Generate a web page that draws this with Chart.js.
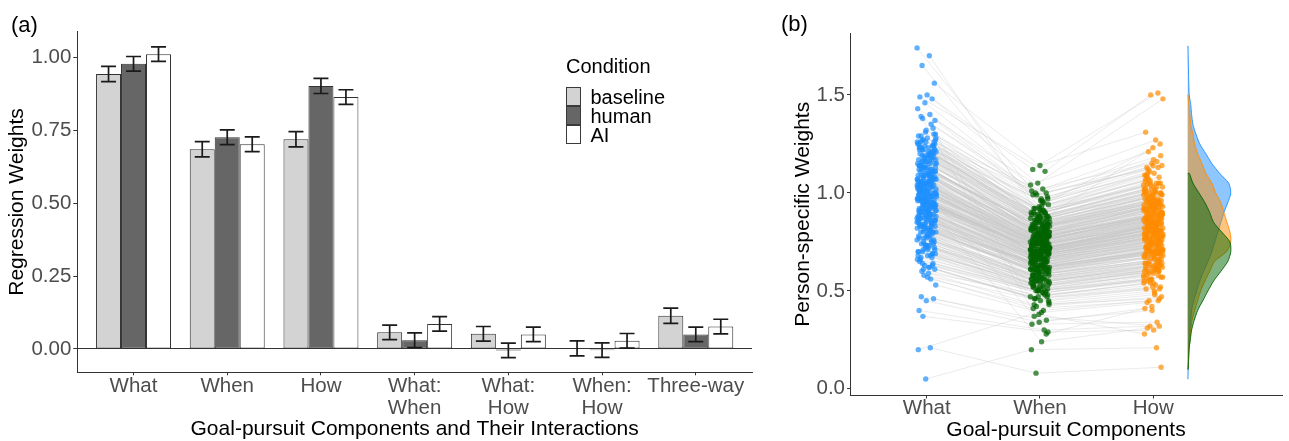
<!DOCTYPE html>
<html><head><meta charset="utf-8">
<script src="https://cdn.jsdelivr.net/npm/chart.js@4.4.1/dist/chart.umd.min.js"></script>
<style>
body{margin:0;background:#fff;}
#wrap{position:relative;width:1289px;height:441px;overflow:hidden;font-family:"Liberation Sans",Arial,sans-serif;background:#fff;}
canvas{position:absolute;top:0;}
.t{position:absolute;white-space:nowrap;color:#000;}
.panel{font-size:22px;line-height:22px;}
.leg{font-size:20px;line-height:20px;}
.key{position:absolute;width:15px;height:19px;box-sizing:border-box;border:1px solid #3a3a3a;}
</style></head><body>
<div id="wrap">
 <canvas id="ca" width="775" height="441" style="left:0"></canvas>
 <canvas id="cb" width="509" height="441" style="left:780px"></canvas>
 <div class="t panel" style="left:11px;top:14px">(a)</div>
 <div class="t panel" style="left:781px;top:13px">(b)</div>
 <div class="t leg" style="left:566px;top:56px">Condition</div>
</div>
<script>
// ---------------- Panel (a) data ----------------
const barCategories = ['What','When','How','What:When','What:How','When:How','Three-way'];
const xTickLabels = [['What'],['When'],['How'],['What:','When'],['What:','How'],['When:','How'],['Three-way']];
const conditions = ['baseline','human','AI'];
const baselineVals = [0.943, 0.685, 0.719, 0.057, 0.052, 0.002, 0.114];
const humanVals    = [0.978, 0.726, 0.902, 0.030, -0.005, -0.004, 0.050];
const aiVals       = [1.011, 0.702, 0.864, 0.086, 0.050, 0.028, 0.077];
const baselineErr  = [0.026, 0.026, 0.026, 0.025, 0.025, 0.026, 0.026];
const humanErr     = [0.025, 0.025, 0.026, 0.025, 0.025, 0.025, 0.025];
const aiErr        = [0.025, 0.025, 0.025, 0.025, 0.025, 0.025, 0.025];
const yTicksA = [0, 0.25, 0.5, 0.75, 1.0];

// ---------------- Panel (b) data ----------------
const components = ['What','When','How'];
const yTicksB = [0, 0.5, 1.0, 1.5];
const whatWeights = [
1.74,0.95,1.12,0.83,1.05,0.71,1.22,0.98,0.88,1.31,0.64,1.02,0.92,1.17,0.77,1.08,0.99,0.86,1.26,0.60,
1.70,1.04,0.91,0.79,1.14,0.68,1.00,0.94,1.20,0.85,0.73,1.10,0.97,0.81,1.28,0.58,1.06,0.90,1.16,0.75,
1.65,0.96,1.03,0.87,1.24,0.66,1.09,0.93,0.80,1.19,0.70,1.01,0.89,1.13,0.62,1.07,0.95,0.84,1.23,0.78,
1.56,1.00,0.92,1.15,0.82,0.69,1.11,0.97,0.86,1.27,0.56,1.04,0.90,1.18,0.74,1.02,0.98,0.83,1.21,0.65,
1.50,0.94,1.06,0.88,1.25,0.72,1.08,0.96,0.79,1.30,0.61,1.03,0.91,1.12,0.76,1.05,0.99,0.85,1.19,0.67,
1.49,1.01,0.93,1.16,0.81,0.70,1.10,0.95,0.87,1.23,0.53,1.07,0.89,1.14,0.73,1.00,0.97,0.82,1.26,0.63,
1.48,0.98,1.05,0.86,1.22,0.68,1.09,0.92,0.80,1.29,0.59,1.02,0.94,1.17,0.77,1.04,0.96,0.84,1.20,0.66,
1.46,1.03,0.90,1.13,0.83,0.71,1.12,0.99,0.88,1.24,0.47,1.06,0.91,1.18,0.75,1.01,0.95,0.85,1.27,0.62,
1.43,0.97,1.07,0.87,1.21,0.69,1.08,0.93,0.78,1.32,0.46,1.03,0.90,1.15,0.74,1.05,1.00,0.82,1.22,0.64,
1.40,1.02,0.94,1.11,0.80,0.72,1.13,0.96,0.86,1.25,0.45,1.04,0.92,1.19,0.76,0.99,0.98,0.84,1.28,0.61,
1.38,0.95,1.06,0.89,1.20,0.67,1.10,0.94,0.81,1.35,0.40,1.01,0.93,1.16,0.73,1.07,0.97,0.83,1.23,0.57,
1.37,0.37,0.21,0.20,0.05,1.33,1.39,0.99,0.88,1.09,
1.18,0.92,1.04,0.86,1.12,0.78,0.97,1.24,0.69,1.06,0.88,1.15,0.94,0.81,1.29,1.01,0.74,1.09,0.90,1.21,
1.03,0.85,1.14,0.96,0.72,1.19,0.89,1.07,0.98,0.63,1.26,0.91,1.11,0.83,1.00,1.17,0.77,0.95,1.23,0.87,
0.99,1.13,0.84,1.05,0.93,1.22,0.70,1.08,0.96,1.16,0.80,1.02,0.90,1.27,0.75,1.10,0.97,0.85,1.20,1.04,
1.09,0.87,1.17,0.94,1.01,0.79,1.25,0.92,1.06,0.68,1.14,0.98,0.83,1.19,0.91,1.03,0.76,1.12,0.95,1.30,
0.96,1.10,0.82,1.05,0.93,1.20,0.73,1.08,1.00,1.15,0.86,0.99,1.24,0.89,1.06,0.80,1.13,0.94,1.02,1.18,
1.07,0.90,1.16,0.97,0.84,1.21,1.01,0.71,1.11,0.95,1.04,0.88,1.26,0.92,1.14,0.78,1.00,1.09,0.85,1.22];
const whenWeights = [
0.95,0.72,0.80,0.62,0.75,0.55,0.84,0.70,0.66,0.90,0.50,0.73,0.68,0.82,0.58,0.77,0.71,0.64,0.88,0.47,
0.92,0.76,0.67,0.60,0.81,0.52,0.74,0.69,0.86,0.63,0.56,0.79,0.72,0.61,0.93,0.44,0.78,0.65,0.83,0.57,
0.88,0.70,0.75,0.64,0.89,0.49,0.78,0.68,0.59,0.85,0.53,0.73,0.66,0.81,0.46,0.76,0.71,0.62,0.90,0.58,
1.14,0.74,0.67,0.83,0.61,0.51,0.80,0.71,0.64,0.94,0.42,0.77,0.66,0.86,0.55,0.75,0.72,0.62,0.87,0.48,
1.12,0.69,0.78,0.65,0.91,0.54,0.79,0.70,0.58,0.97,0.45,0.75,0.67,0.82,0.57,0.76,0.73,0.63,0.85,0.50,
1.11,0.73,0.68,0.84,0.60,0.52,0.81,0.69,0.65,0.92,0.39,0.78,0.66,0.83,0.54,0.74,0.71,0.61,0.96,0.47,
1.05,0.72,0.77,0.63,0.88,0.50,0.80,0.68,0.59,1.00,0.43,0.74,0.69,0.85,0.56,0.76,0.70,0.62,0.89,0.49,
1.04,0.75,0.66,0.82,0.62,0.53,0.83,0.72,0.65,0.93,0.35,0.77,0.67,0.87,0.55,0.73,0.70,0.63,0.98,0.46,
1.02,0.71,0.79,0.64,0.90,0.51,0.78,0.68,0.57,1.01,0.34,0.76,0.66,0.84,0.54,0.77,0.72,0.60,0.91,0.48,
1.00,0.74,0.69,0.81,0.59,0.53,0.82,0.70,0.63,0.95,0.33,0.75,0.68,0.86,0.56,0.72,0.71,0.61,0.99,0.45,
0.97,0.70,0.76,0.65,0.87,0.50,0.80,0.69,0.60,0.99,0.30,0.74,0.67,0.83,0.55,0.78,0.71,0.62,0.90,0.41,
0.96,0.29,0.08,0.40,0.20,0.38,0.28,0.37,0.24,0.43,
0.78,0.66,0.74,0.60,0.82,0.55,0.71,0.87,0.50,0.76,0.64,0.80,0.69,0.58,0.91,0.73,0.52,0.79,0.67,0.85,
0.72,0.62,0.81,0.70,0.54,0.84,0.65,0.77,0.71,0.47,0.89,0.66,0.79,0.61,0.73,0.83,0.56,0.69,0.86,0.63,
0.71,0.80,0.61,0.75,0.68,0.87,0.51,0.77,0.70,0.82,0.59,0.74,0.66,0.90,0.55,0.78,0.70,0.62,0.85,0.74,
0.77,0.63,0.83,0.69,0.73,0.58,0.88,0.67,0.76,0.49,0.81,0.71,0.60,0.84,0.66,0.74,0.56,0.79,0.69,0.92,
0.70,0.79,0.60,0.75,0.68,0.85,0.53,0.77,0.72,0.82,0.62,0.71,0.88,0.65,0.76,0.58,0.80,0.68,0.73,0.84,
0.76,0.65,0.82,0.70,0.61,0.86,0.72,0.52,0.79,0.69,0.74,0.64,0.89,0.67,0.81,0.57,0.72,0.78,0.62,0.87];
const howWeights = [
1.10,0.82,0.93,0.70,0.88,0.61,0.99,0.80,0.74,1.05,0.55,0.84,0.77,0.96,0.66,0.90,0.81,0.72,1.02,0.52,
1.25,0.87,0.76,0.68,0.95,0.58,0.85,0.79,1.00,0.71,0.63,0.92,0.83,0.69,1.08,0.49,0.89,0.75,0.97,0.64,
1.23,0.81,0.86,0.73,1.04,0.56,0.91,0.78,0.67,0.99,0.60,0.84,0.76,0.94,0.51,0.88,0.82,0.71,1.06,0.65,
1.31,0.85,0.77,0.96,0.69,0.58,0.93,0.81,0.73,1.10,0.47,0.89,0.75,1.00,0.62,0.86,0.83,0.70,1.03,0.54,
1.51,0.79,0.90,0.74,1.07,0.61,0.92,0.80,0.66,1.13,0.50,0.87,0.77,0.95,0.64,0.88,0.84,0.72,1.01,0.57,
1.50,0.84,0.78,0.97,0.68,0.59,0.94,0.79,0.74,1.08,0.44,0.90,0.76,0.98,0.61,0.85,0.82,0.70,1.12,0.53,
1.48,0.83,0.89,0.72,1.03,0.57,0.93,0.78,0.67,1.15,0.46,0.86,0.79,0.99,0.63,0.87,0.81,0.71,1.05,0.55,
1.27,0.86,0.75,0.95,0.70,0.60,0.96,0.83,0.74,1.09,0.40,0.89,0.77,1.01,0.62,0.84,0.80,0.72,1.14,0.52,
1.21,0.82,0.91,0.73,1.05,0.58,0.92,0.78,0.65,1.16,0.41,0.88,0.76,0.97,0.61,0.89,0.83,0.69,1.07,0.54,
1.19,0.85,0.79,0.94,0.67,0.60,0.95,0.80,0.73,1.11,0.34,0.87,0.78,1.00,0.64,0.83,0.82,0.70,1.13,0.51,
1.17,0.81,0.88,0.74,1.02,0.56,0.93,0.79,0.68,1.14,0.32,0.86,0.77,0.96,0.63,0.90,0.81,0.71,1.04,0.45,
1.09,0.30,0.11,0.45,0.21,0.28,0.42,0.32,0.31,0.48,
0.90,0.76,0.85,0.69,0.94,0.63,0.81,1.00,0.57,0.87,0.73,0.92,0.79,0.66,1.05,0.83,0.60,0.91,0.77,0.98,
0.83,0.71,0.93,0.80,0.62,0.97,0.75,0.88,0.82,0.54,1.02,0.76,0.91,0.70,0.84,0.95,0.64,0.79,0.99,0.72,
0.82,0.92,0.70,0.86,0.78,1.00,0.59,0.89,0.80,0.95,0.68,0.85,0.76,1.04,0.63,0.90,0.81,0.71,0.97,0.85,
0.88,0.72,0.95,0.79,0.84,0.66,1.01,0.77,0.87,0.56,0.93,0.82,0.69,0.96,0.75,0.85,0.64,0.91,0.80,1.06,
0.80,0.91,0.69,0.86,0.78,0.98,0.61,0.88,0.83,0.94,0.71,0.82,1.01,0.74,0.87,0.67,0.92,0.78,0.84,0.96,
0.87,0.75,0.94,0.81,0.70,0.99,0.83,0.60,0.90,0.79,0.85,0.73,1.03,0.77,0.93,0.65,0.83,0.89,0.71,1.00];

// marginal densities (percent of peak) read at these weight levels
const densityLevels = [0.05,0.10,0.15,0.20,0.25,0.30,0.35,0.40,0.45,0.50,0.55,0.60,0.65,0.70,0.75,0.80,0.85,0.90,0.95,1.00,
                       1.05,1.10,1.15,1.20,1.25,1.30,1.35,1.40,1.45,1.50,1.55,1.60,1.65,1.70,1.75];
const whatDensity = [0.5,1,2,3,3.5,5,7,9,14,21,28,37,47,56,63,70,77,84,93,100,
                     95,74,56,42,28,19,12,9,7,3.5,2.5,2,1.5,1,0.5];
const howDensity  = [null,0.5,1.5,2.5,5,7,10,16,23,30,40,51,62,90,100,98,91,84,77,65,
                     56,42,33,23,16,12,7,5,2.5,0.7,null,null,null,null,null];
const whenDensity = [null,1,2,3,6,9,15,23,35,47,60,77,93,100,98,79,60,51,40,26,
                     12,3.5,null,null,null,null,null,null,null,null,null,null,null,null,null];

// ---------------- styles ----------------
const FONT = '"Liberation Sans", Arial, sans-serif';
Chart.defaults.font.family = FONT;
const AXIS = '#333333', TICK_TXT = '#4d4d4d';
const condFill = ['#d3d3d3', '#666666', '#ffffff'];
const compRGB = ['30,144,255', '0,100,0', '255,140,0'];

// legend (HTML text)
const wrap = document.getElementById('wrap');
conditions.forEach((c, i) => {
  const top = 86.5 + i * 19;
  const k = document.createElement('div');
  k.className = 'key'; k.style.left = '566px'; k.style.top = top + 'px'; k.style.background = condFill[i];
  wrap.appendChild(k);
  const l = document.createElement('div');
  l.className = 't leg'; l.style.left = '590.5px'; l.style.top = top + 'px'; l.textContent = c;
  wrap.appendChild(l);
});

// error bar plugin (uses the library's y scale and bar elements)
const errorBars = {
  id: 'errorBars',
  afterDatasetsDraw(chart) {
    const ctx = chart.ctx, y = chart.scales.y;
    chart.data.datasets.forEach((ds, di) => {
      const meta = chart.getDatasetMeta(di);
      meta.data.forEach((bar, j) => {
        const v = ds.data[j].y, e = ds.errors[j];
        const yt = y.getPixelForValue(v + e), yb = y.getPixelForValue(v - e);
        const hw = bar.width * 0.3;
        ctx.save();
        ctx.strokeStyle = '#1a1a1a'; ctx.lineWidth = 1.7;
        ctx.beginPath();
        ctx.moveTo(bar.x, yt); ctx.lineTo(bar.x, yb);
        ctx.moveTo(bar.x - hw, yt); ctx.lineTo(bar.x + hw, yt);
        ctx.moveTo(bar.x - hw, yb); ctx.lineTo(bar.x + hw, yb);
        ctx.stroke();
        ctx.restore();
      });
    });
  }
};

const barSeries = [baselineVals, humanVals, aiVals];
const barErrs = [baselineErr, humanErr, aiErr];

new Chart(document.getElementById('ca'), {
  type: 'bar',
  data: {
    datasets: conditions.map((c, k) => ({
      label: c,
      data: barCategories.map((cat, i) => ({x: i, y: barSeries[k][i]})),
      errors: barErrs[k],
      backgroundColor: condFill[k]
    }))
  },
  options: {
    responsive: false, animation: false, devicePixelRatio: 1, events: [],
    layout: {padding: {top: 31.7, right: 23, left: 0, bottom: 0}},
    datasets: {bar: {categoryPercentage: 0.8, barPercentage: 1, borderWidth: 1, borderColor: '#333333', borderSkipped: false}},
    plugins: {legend: {display: false}, tooltip: {enabled: false}},
    scales: {
      x: {
        type: 'linear', min: -0.6, max: 6.6, offset: false,
        grid: {drawOnChartArea: false, offset: false, tickLength: 3, tickColor: AXIS, tickWidth: 1},
        border: {color: AXIS, width: 1},
        afterBuildTicks: s => { s.ticks = barCategories.map((c, i) => ({value: i})); },
        afterFit: s => { s.height = 441 - 372.3; },
        ticks: {autoSkip: false, maxRotation: 0, minRotation: 0, padding: 0, color: TICK_TXT,
                font: {size: 20.5, lineHeight: 1.07}, callback: v => xTickLabels[v]},
        title: {display: true, text: 'Goal-pursuit Components and Their Interactions', color: '#000',
                font: {size: 21, lineHeight: 1}, padding: {top: 0, bottom: 1.5}}
      },
      y: {
        type: 'linear', min: -0.080, max: 1.088,
        grid: {color: c => (c.tick && c.tick.value === 0) ? AXIS : 'rgba(0,0,0,0)', tickColor: AXIS, tickLength: 4, lineWidth: 1},
        border: {color: AXIS, width: 1},
        afterBuildTicks: s => { s.ticks = yTicksA.map(v => ({value: v})); },
        afterFit: s => { s.width = 77.3; },
        ticks: {padding: 2, color: TICK_TXT, font: {size: 20.5}, callback: v => Number(v).toFixed(2)},
        title: {display: true, text: 'Regression Weights', color: '#000', font: {size: 21, lineHeight: 1}, padding: {top: 7, bottom: 0}}
      }
    }
  },
  plugins: [errorBars]
});

// ---------------- Panel (b) ----------------
const compSeries = [whatWeights, whenWeights, howWeights];
const jitter = (i, k) => ((((i * 37 + k * 59) % 97) / 96) - 0.5) * 0.17;
const DENS_BASE = 2.304, DENS_WIDTH = 0.38;

function densityShape(vals) {
  const pts = [];
  densityLevels.forEach((lv, i) => { if (vals[i] != null) pts.push({x: DENS_BASE + vals[i] / 100 * DENS_WIDTH, y: lv}); });
  const lo = pts[0].y, hi = pts[pts.length - 1].y;
  pts.unshift({x: DENS_BASE, y: lo});
  pts.push({x: DENS_BASE, y: hi});
  return pts;
}

const densSets = [[whenDensity, 1, 2], [howDensity, 2, 3], [whatDensity, 0, 4]].map(([d, c, ord]) => ({
  data: densityShape(d), showLine: true, fill: 'shape', tension: 0.25,
  borderColor: 'rgba(' + compRGB[c] + ',0.9)', borderWidth: 1,
  backgroundColor: 'rgba(' + compRGB[c] + ',0.5)', pointRadius: 0, pointHitRadius: 0, order: ord
}));

const pointSets = compSeries.map((arr, k) => ({
  data: arr.map((v, i) => ({x: k + jitter(i, k), y: v})),
  showLine: false, pointRadius: 2.7, pointBorderWidth: 0,
  pointBackgroundColor: 'rgba(' + compRGB[k] + ',0.7)', backgroundColor: 'rgba(' + compRGB[k] + ',0.7)',
  order: 1
}));

const lineSets = whatWeights.map((_, i) => ({
  data: compSeries.map((arr, k) => ({x: k + jitter(i, k), y: arr[i]})),
  showLine: true, fill: false, borderColor: 'rgba(200,200,200,0.45)', borderWidth: 0.8,
  pointRadius: 0, pointHitRadius: 0, order: 100
}));

new Chart(document.getElementById('cb'), {
  type: 'line',
  data: {datasets: [...densSets, ...pointSets, ...lineSets]},
  options: {
    responsive: false, animation: false, devicePixelRatio: 1, events: [],
    layout: {padding: {top: 33, right: 7, left: 0, bottom: 0}},
    plugins: {legend: {display: false}, tooltip: {enabled: false}},
    scales: {
      x: {
        type: 'linear', min: -0.677, max: 3.136,
        grid: {drawOnChartArea: false, tickLength: 3, tickColor: AXIS},
        border: {color: AXIS, width: 1},
        afterBuildTicks: s => { s.ticks = components.map((c, i) => ({value: i})); },
        afterFit: s => { s.height = 441 - 395.5; },
        ticks: {autoSkip: false, maxRotation: 0, minRotation: 0, padding: 0, color: TICK_TXT,
                font: {size: 20.5, lineHeight: 1.0}, callback: v => components[v]},
        title: {display: true, text: 'Goal-pursuit Components', color: '#000', font: {size: 21, lineHeight: 1}, padding: {top: 0, bottom: 0.5}}
      },
      y: {
        type: 'linear', min: -0.034, max: 1.816,
        grid: {drawOnChartArea: false, tickLength: 3, tickColor: AXIS},
        border: {color: AXIS, width: 1},
        afterBuildTicks: s => { s.ticks = yTicksB.map(v => ({value: v})); },
        afterFit: s => { s.width = 70; },
        ticks: {padding: 2, color: TICK_TXT, font: {size: 20.5}, callback: v => Number(v).toFixed(1)},
        title: {display: true, text: 'Person-specific Weights', color: '#000', font: {size: 21, lineHeight: 1}, padding: {top: 12.5, bottom: 0}}
      }
    }
  }
});
</script>
</body></html>
